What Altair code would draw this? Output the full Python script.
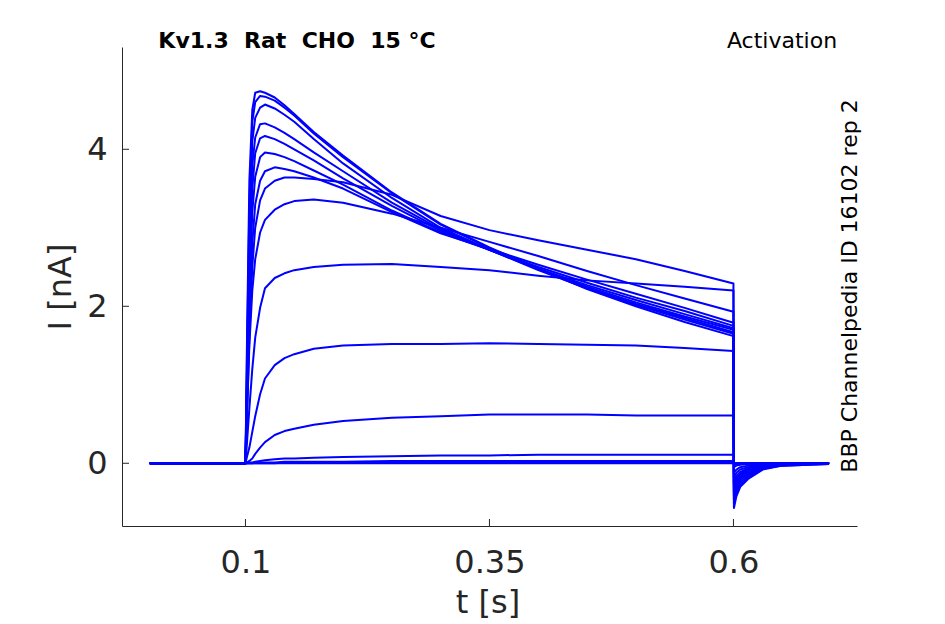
import altair as alt
import pandas as pd

# time grid [s]
t_s = [0.002, 0.1, 0.1015, 0.104, 0.107, 0.11, 0.115, 0.12, 0.13, 0.14, 0.15, 0.17,
       0.2, 0.25, 0.3, 0.35, 0.4, 0.45, 0.5, 0.55, 0.6,
       0.6005, 0.603, 0.607, 0.615, 0.63, 0.65, 0.698]

# currents [nA], one list per voltage step
trace_01 = [0, 0, 1.5, 3.6, 4.5, 4.72, 4.74, 4.72, 4.66, 4.56, 4.45, 4.22, 3.92, 3.45, 3.05, 2.75, 2.48, 2.22, 2.0, 1.8, 1.62,
            -0.57, -0.42, -0.3, -0.2, -0.08, -0.03, -0.01]
trace_02 = [0, 0, 1.3, 3.3, 4.35, 4.6, 4.68, 4.67, 4.62, 4.53, 4.43, 4.2, 3.9, 3.44, 3.04, 2.74, 2.47, 2.23, 2.02, 1.83, 1.65,
            -0.52, -0.38, -0.27, -0.18, -0.07, -0.03, -0.01]
trace_03 = [0, 0, 1.1, 3.0, 4.1, 4.4, 4.53, 4.57, 4.52, 4.44, 4.35, 4.13, 3.82, 3.38, 3.0, 2.72, 2.46, 2.23, 2.03, 1.85, 1.67,
            -0.47, -0.34, -0.24, -0.16, -0.06, -0.02, 0]
trace_04 = [0, 0, 1.0, 2.7, 3.8, 4.15, 4.32, 4.33, 4.28, 4.21, 4.13, 3.96, 3.72, 3.32, 2.98, 2.72, 2.47, 2.25, 2.05, 1.87, 1.7,
            -0.42, -0.3, -0.21, -0.14, -0.05, -0.02, 0]
trace_05 = [0, 0, 0.9, 2.4, 3.5, 3.95, 4.14, 4.17, 4.13, 4.07, 4.0, 3.86, 3.63, 3.28, 2.96, 2.72, 2.48, 2.27, 2.08, 1.9, 1.72,
            -0.38, -0.27, -0.19, -0.12, -0.05, -0.02, 0]
trace_06 = [0, 0, 0.8, 2.1, 3.2, 3.65, 3.9, 3.96, 3.94, 3.9, 3.85, 3.73, 3.55, 3.22, 2.94, 2.72, 2.5, 2.3, 2.11, 1.94, 1.75,
            -0.34, -0.24, -0.17, -0.1, -0.04, -0.01, 0]
trace_07 = [0, 0, 0.7, 1.8, 2.8, 3.3, 3.6, 3.72, 3.77, 3.75, 3.72, 3.64, 3.5, 3.2, 2.93, 2.73, 2.53, 2.34, 2.16, 1.98, 1.79,
            -0.3, -0.21, -0.15, -0.09, -0.04, -0.01, 0]
trace_08 = [0, 0, 0.6, 1.6, 2.5, 3.0, 3.35, 3.5, 3.6, 3.64, 3.64, 3.62, 3.58, 3.42, 3.15, 2.97, 2.84, 2.72, 2.6, 2.45, 2.29,
            -0.27, -0.19, -0.13, -0.08, -0.03, -0.01, 0]
trace_09 = [0, 0, 0.6, 1.5, 2.2, 2.6, 2.94, 3.1, 3.23, 3.3, 3.34, 3.36, 3.32, 3.18, 3.0, 2.82, 2.64, 2.45, 2.27, 2.1, 1.93,
            -0.23, -0.16, -0.11, -0.07, -0.03, -0.01, 0]
trace_10 = [0, 0, 0.25, 0.7, 1.2, 1.6, 1.98, 2.23, 2.36, 2.42, 2.46, 2.5, 2.53, 2.54, 2.5, 2.46, 2.39, 2.33, 2.29, 2.25, 2.2,
            -0.18, -0.12, -0.08, -0.05, -0.02, 0, 0]
trace_11 = [0, 0, 0.08, 0.2, 0.4, 0.6, 0.88, 1.08, 1.25, 1.34, 1.39, 1.46, 1.5, 1.52, 1.52, 1.53, 1.52, 1.51, 1.5, 1.47, 1.43,
            -0.12, -0.08, -0.05, -0.03, -0.01, 0, 0]
trace_12 = [0, 0, 0.01, 0.03, 0.06, 0.12, 0.2, 0.27, 0.36, 0.41, 0.44, 0.49, 0.54, 0.58, 0.6, 0.62, 0.62, 0.62, 0.61, 0.61, 0.61,
            -0.05, -0.03, -0.02, -0.01, 0, 0, 0]
trace_13 = [0, 0, 0, 0.01, 0.01, 0.02, 0.03, 0.04, 0.05, 0.06, 0.06, 0.07, 0.08, 0.09, 0.1, 0.1, 0.11, 0.11, 0.11, 0.11, 0.11,
            -0.02, -0.01, -0.01, 0, 0, 0, 0]
trace_14 = [0, 0, 0, 0, 0, 0.01, 0.01, 0.01, 0.01, 0.02, 0.02, 0.02, 0.02, 0.03, 0.03, 0.03, 0.03, 0.03, 0.03, 0.03, 0.03,
            -0.01, 0, 0, 0, 0, 0, 0]
trace_15 = [0, 0, 0, 0, 0, 0, 0, 0, 0, 0.01, 0.01, 0.01, 0.01, 0.01, 0.01, 0.01, 0.01, 0.01, 0.01, 0.01, 0.01,
            0, 0, 0, 0, 0, 0, 0]
trace_16 = [0, 0, 0, 0, 0, 0, 0, 0, 0, 0, 0, 0, 0, 0, 0, 0, 0, 0, 0, 0, 0,
            0, 0, 0, 0, 0, 0, 0]

traces = [trace_01, trace_02, trace_03, trace_04, trace_05, trace_06, trace_07, trace_08,
          trace_09, trace_10, trace_11, trace_12, trace_13, trace_14, trace_15, trace_16]

x_ticks = [0.1, 0.35, 0.6]
y_ticks = [0, 2, 4]

rows = []
for k, tr in enumerate(traces):
    for t, v in zip(t_s, tr):
        rows.append({"trace": k, "t": t, "I": v})
df = pd.DataFrame(rows)

W, H = 735, 479
INK = "#262626"
FONT = "DejaVu Sans"

xscale = alt.Scale(domain=[-0.0265, 0.7266], nice=False, zero=False)
yscale = alt.Scale(domain=[-0.799, 5.303], nice=False, zero=False)

xaxis = alt.Axis(values=x_ticks,
                 labelExpr="datum.value == 0.1 ? '0.1' : datum.value == 0.35 ? '0.35' : '0.6'",
                 title=None, grid=False, ticks=False, tickSize=0,
                 labelPadding=21, labelFontSize=32, labelColor=INK, labelFont=FONT,
                 domainColor=INK, domainWidth=1, labelOverlap=False, labelFlush=False)
yaxis = alt.Axis(values=y_ticks, title=None, grid=False, ticks=False, tickSize=0,
                 labelPadding=15, labelFontSize=32, labelColor=INK, labelFont=FONT,
                 domainColor=INK, domainWidth=1, labelOverlap=False, labelFlush=False)

lines = alt.Chart(df).mark_line(color="#0000FF", strokeWidth=2, strokeJoin="round").encode(
    x=alt.X("t:Q", scale=xscale, axis=xaxis),
    y=alt.Y("I:Q", scale=yscale, axis=yaxis),
    detail="trace:N",
)

xt = alt.Chart(pd.DataFrame({"t": x_ticks})).mark_rule(color=INK, strokeWidth=1).encode(
    x=alt.X("t:Q", scale=xscale, axis=xaxis), y=alt.value(H), y2=alt.value(H - 7))
yt = alt.Chart(pd.DataFrame({"I": y_ticks})).mark_rule(color=INK, strokeWidth=1).encode(
    y=alt.Y("I:Q", scale=yscale, axis=yaxis), x=alt.value(0), x2=alt.value(7))

one = pd.DataFrame({"a": [0]})

def label(text, x, y, size, angle=0, weight="normal", color="black", align="center", baseline="alphabetic"):
    return alt.Chart(one).mark_text(text=text, fontSize=size, font=FONT, fontWeight=weight, color=color,
                                    angle=angle, align=align, baseline=baseline).encode(
        x=alt.value(x), y=alt.value(y))

title_l = label("Kv1.3\u00a0\u00a0Rat\u00a0\u00a0CHO\u00a0\u00a015\u00a0°C", 175, 1, 22, weight="bold")
title_r = label("Activation", 660, 1, 22)
side = label("BBP Channelpedia ID 16102 rep 2", 735, 239, 22, angle=270)
ylab = label("I [nA]", -51, 240, 32, angle=270, color=INK)
xlab = label("t [s]", 366, 566, 32, color=INK)

chart = alt.layer(xt, yt, lines, title_l, title_r, side, ylab, xlab).properties(
    width=W, height=H,
    padding={"left": 114, "top": 39, "right": 72, "bottom": 97},
    autosize=alt.AutoSizeParams(type="none"),
).configure(background="white").configure_view(stroke=None)

chart.save("out.html", embed_options={"renderer": "svg", "actions": False})
